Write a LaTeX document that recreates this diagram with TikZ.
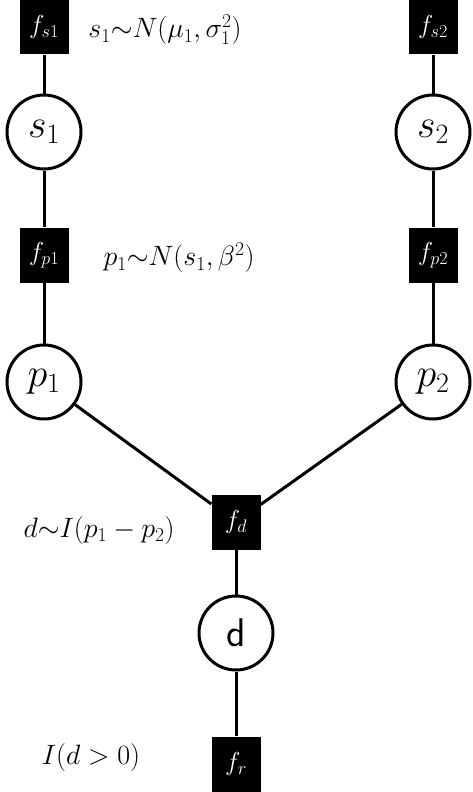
\RequirePackage{fix-cm}
\documentclass[tikz,border=0pt]{standalone}
\usepackage{tikz}
\usepackage{xcolor}

\begin{document}
\begin{tikzpicture}[x=1pt, y=-1pt,
    faktor/.style={fill=black, text=white, minimum width=49pt, minimum height=55pt, inner sep=0pt, font=\fontsize{26}{26}\selectfont},
    knoten/.style={circle, draw=black, line width=3pt, fill=white, minimum size=74pt, inner sep=0pt, font=\fontsize{40}{40}\selectfont},
    formel/.style={font=\fontsize{28}{28}\selectfont},
    kante/.style={line width=3pt}]
    \useasboundingbox (0,0) rectangle (473,792);

    % Faktoren
    \node[faktor] (fs1) at (44,27)  {$f_{s1}$};
    \node[faktor] (fs2) at (433,27) {$f_{s2}$};
    \node[faktor] (fp1) at (44,255) {$f_{p1}$};
    \node[faktor] (fp2) at (433,255) {$f_{p2}$};
    \node[faktor] (fd)  at (236,522) {$f_d$};
    \node[faktor] (fr)  at (236,764) {$f_r$};

    % Variablen
    \node[knoten] (s1) at (44,132)  {$s_1$};
    \node[knoten] (s2) at (433,132) {$s_2$};
    \node[knoten] (p1) at (44,382)  {$p_1$};
    \node[knoten] (p2) at (433,382) {$p_2$};
    \node[knoten] (d)  at (236,633) {\sffamily d};

    % Kanten
    \draw[kante] (fs1) -- (s1) -- (fp1) -- (p1);
    \draw[kante] (fs2) -- (s2) -- (fp2) -- (p2);
    \draw[kante] (p1) -- (fd);
    \draw[kante] (p2) -- (fd);
    \draw[kante] (fd) -- (d) -- (fr);

    % Beschriftungen
    \node[formel] (ls1) at (165,30)  {$s_1{\sim}N(\mu_1,\sigma_1^{2})$};
    \node[formel] (lp1) at (179,258) {$p_1{\sim}N(s_1,\beta^2)$};
    \node[formel] (ld)  at (99,530)  {$d{\sim}I(p_1-p_2)$};
    \node[formel] (lr)  at (91,757)  {$I(d>0)$};
\end{tikzpicture}
\end{document}
